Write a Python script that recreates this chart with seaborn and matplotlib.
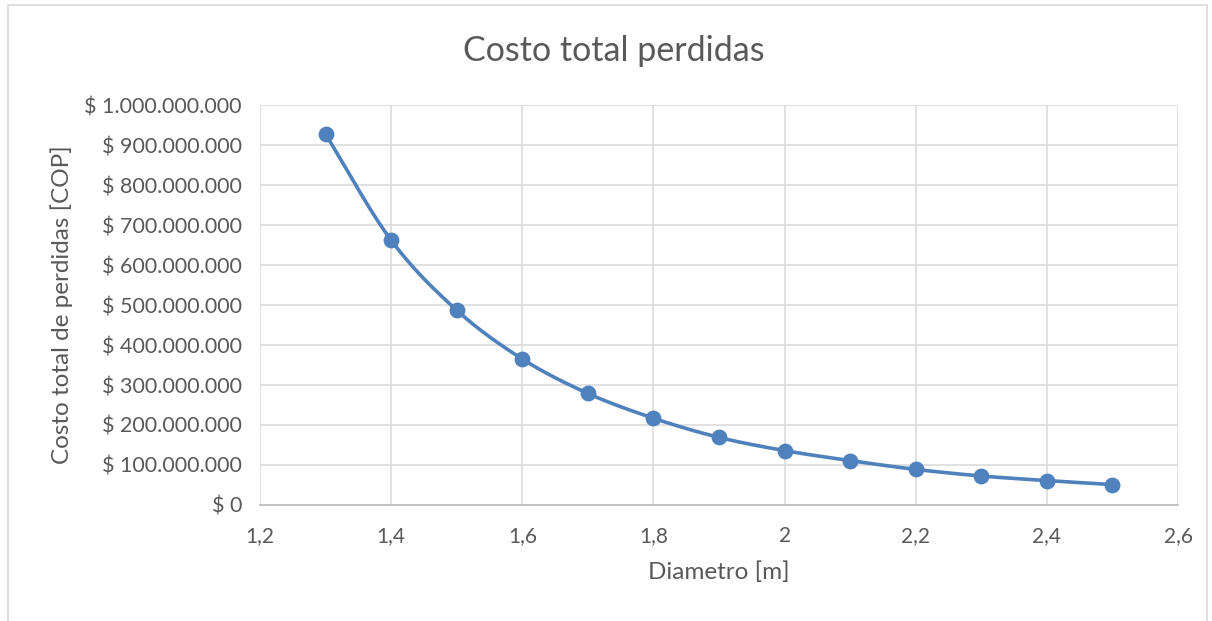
import numpy as np
import pandas as pd
import matplotlib
matplotlib.use("Agg")
import matplotlib.pyplot as plt
import seaborn as sns
from matplotlib.ticker import FuncFormatter, MultipleLocator

diametro = [1.3, 1.4, 1.5, 1.6, 1.7, 1.8, 1.9, 2.0, 2.1, 2.2, 2.3, 2.4, 2.5]
costo = [927e6, 662e6, 487e6, 365e6, 279e6, 217e6, 169e6, 136e6, 111e6, 89e6, 72.5e6, 61e6, 51e6]

title = "Costo total perdidas"
xlabel = "Diametro [m]"
ylabel = "Costo total de perdidas [COP]"

sns.set_theme(style="white")
plt.rcParams['font.family'] = ['Lato', 'DejaVu Sans']

TXT = "#595959"
BLUE = "#4F81BD"

fig = plt.figure(figsize=(12.12, 6.21), dpi=100)
ax = fig.add_axes([0.2145, 0.1868, 0.7575, 0.6441])

# smooth line (Catmull-Rom through the data points, like Excel's smoothed line)
x = np.array(diametro); y = np.array(costo)
px = np.concatenate([[2*x[0]-x[1]], x, [2*x[-1]-x[-2]]])
py = np.concatenate([[2*y[0]-y[1]], y, [2*y[-1]-y[-2]]])
sx, sy = [], []
t = np.linspace(0, 1, 30)
for i in range(1, len(px)-2):
    p0, p1, p2, p3 = px[i-1], px[i], px[i+1], px[i+2]
    q0, q1, q2, q3 = py[i-1], py[i], py[i+1], py[i+2]
    def cr(a0, a1, a2, a3):
        return 0.5*((2*a1) + (-a0+a2)*t + (2*a0-5*a1+4*a2-a3)*t**2 + (-a0+3*a1-3*a2+a3)*t**3)
    sx.extend(cr(p0, p1, p2, p3)); sy.extend(cr(q0, q1, q2, q3))
smooth = pd.DataFrame({"x": sx, "y": sy})
df = pd.DataFrame({"x": diametro, "y": costo})

sns.lineplot(data=smooth, x="x", y="y", ax=ax, color=BLUE, linewidth=2.6, sort=False, zorder=3)
sns.scatterplot(data=df, x="x", y="y", ax=ax, color=BLUE, s=130, edgecolor=BLUE, linewidth=0, zorder=4)

ax.set_xlim(1.2, 2.6)
ax.set_ylim(0, 1e9)
ax.xaxis.set_major_locator(MultipleLocator(0.2))
ax.yaxis.set_major_locator(MultipleLocator(1e8))

def yfmt(v, pos):
    if v == 0:
        return "$ 0"
    return "$ " + f"{int(round(v)):,}".replace(",", ".")
def xfmt(v, pos):
    s = f"{v:.1f}"
    if s.endswith(".0"):
        s = s[:-2]
    return s.replace(".", ",")
ax.yaxis.set_major_formatter(FuncFormatter(yfmt))
ax.xaxis.set_major_formatter(FuncFormatter(xfmt))

ax.grid(True, color="#D9D9D9", linewidth=1.1)
ax.set_axisbelow(True)
for s in ["top", "right", "left"]:
    ax.spines[s].set_visible(False)
ax.spines["bottom"].set_color("#BFBFBF")
ax.spines["bottom"].set_linewidth(1.3)
ax.tick_params(axis="y", length=0, labelsize=15.5, labelcolor=TXT, pad=13)
ax.tick_params(axis="x", length=0, labelsize=15, labelcolor=TXT, pad=15)

ax.set_xlabel(xlabel, fontsize=17.5, color=TXT, labelpad=11)
ax.set_ylabel(ylabel, fontsize=17.5, color=TXT, labelpad=8)
fig.text(0.5066, 0.918, title, ha="center", va="center", fontsize=24.5, color=TXT)

fig.patches.append(plt.Rectangle((0.0066, -0.05), 0.9895, 1.042, transform=fig.transFigure,
                                 fill=False, edgecolor="#D9D9D9", linewidth=1.2))

fig.savefig("out.png", dpi=100, facecolor="white")
